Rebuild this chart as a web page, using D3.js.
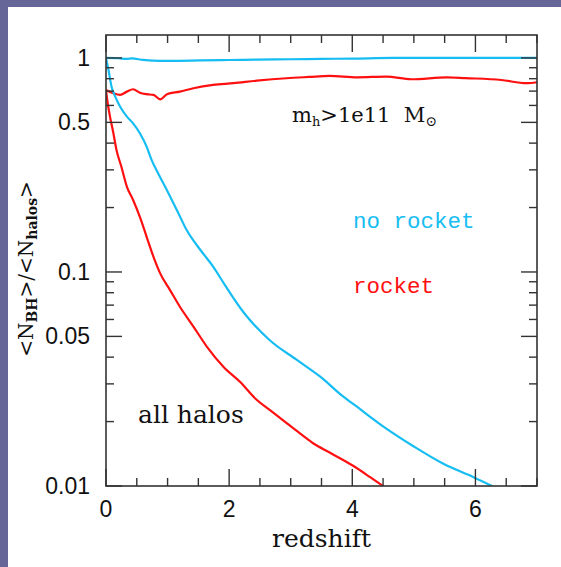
<!DOCTYPE html>
<html>
<head>
<meta charset="utf-8">
<script src="https://cdn.jsdelivr.net/npm/d3@7"></script>
<style>
  body { margin: 0; background: #fff; }
  svg { display: block; }
</style>
</head>
<body>
<script>
const width = 561;
const height = 567;
const margin = {left: 106, right: 24, top: 35, bottom: 81};

// redshift / ratio pairs
const zAllNoRocket = [0, 0.04, 0.09, 0.15, 0.23, 0.34, 0.44, 0.55, 0.66, 0.74, 0.85, 0.99, 1.15, 1.31, 1.53, 1.74, 1.93, 2.23, 2.66, 3.1, 3.48, 3.85, 4.02, 4.5, 5.0, 5.48, 5.97, 6.27];
const vAllNoRocket = [1, 0.88, 0.734, 0.66, 0.592, 0.532, 0.495, 0.445, 0.385, 0.334, 0.288, 0.241, 0.195, 0.157, 0.127, 0.106, 0.087, 0.065, 0.048, 0.0388, 0.0324, 0.0262, 0.0241, 0.019, 0.0153, 0.0127, 0.011, 0.01];

const zAllRocket = [0, 0.02, 0.065, 0.12, 0.17, 0.25, 0.34, 0.44, 0.55, 0.66, 0.77, 0.88, 1.04, 1.2, 1.42, 1.64, 1.91, 2.18, 2.42, 2.7, 2.95, 3.15, 3.37, 3.64, 4.02, 4.29, 4.5];
const vAllRocket = [0.709, 0.636, 0.532, 0.445, 0.372, 0.31, 0.25, 0.217, 0.181, 0.146, 0.118, 0.0985, 0.0823, 0.0688, 0.0556, 0.0447, 0.036, 0.0306, 0.0257, 0.0222, 0.0195, 0.0176, 0.0158, 0.0143, 0.0124, 0.011, 0.01];

const zMassNoRocket = [0, 0.2, 0.34, 0.42, 0.6, 0.88, 1.2, 1.53, 2.0, 2.45, 3.0, 3.5, 4.0, 4.67, 5.5, 6.3, 7];
const vMassNoRocket = [1, 0.997, 0.99, 0.995, 0.979, 0.968, 0.97, 0.975, 0.978, 0.983, 0.986, 0.99, 0.993, 1.0, 1.0, 1.0, 1.0];

const zMassRocket = [0, 0.12, 0.23, 0.34, 0.44, 0.55, 0.66, 0.77, 0.88, 0.99, 1.2, 1.42, 1.74, 2.07, 2.45, 2.93, 3.3, 3.63, 4.08, 4.55, 4.96, 5.54, 5.84, 6.42, 6.83, 7];
const vMassRocket = [0.709, 0.684, 0.672, 0.696, 0.714, 0.688, 0.677, 0.672, 0.641, 0.677, 0.696, 0.722, 0.748, 0.762, 0.783, 0.804, 0.815, 0.824, 0.812, 0.818, 0.795, 0.812, 0.805, 0.789, 0.762, 0.77];

const xTickLabels = [0, 2, 4, 6];
const yTickLabels = [1, 0.5, 0.1, 0.05, 0.01];

const blue = '#16bdf2';
const red = '#ff1010';

let svg = d3.select('body')
            .append('svg')
            .attr('width', width)
            .attr('height', height);

// purple page edge
svg.append('rect').attr('x', 0).attr('y', 0).attr('width', 8).attr('height', height).attr('fill', '#666699');
svg.append('rect').attr('x', 0).attr('y', 0).attr('width', width).attr('height', 7).attr('fill', '#666699');

let xScale = d3.scaleLinear()
               .domain([0, 7])
               .range([margin.left, width - margin.right]);

let yScale = d3.scaleLog()
               .domain([0.01, 1.28])
               .range([height - margin.bottom, margin.top]);

const x0 = xScale.range()[0], x1 = xScale.range()[1];
const y0 = yScale.range()[0], y1 = yScale.range()[1];

svg.append('clipPath').attr('id', 'clip')
   .append('rect')
   .attr('x', x0).attr('y', y1)
   .attr('width', x1 - x0).attr('height', y0 - y1);

// curves
const series = [
  {z: zMassNoRocket, v: vMassNoRocket, color: blue},
  {z: zMassRocket, v: vMassRocket, color: red},
  {z: zAllNoRocket, v: vAllNoRocket, color: blue},
  {z: zAllRocket, v: vAllRocket, color: red}
];

let line = d3.line()
             .curve(d3.curveMonotoneX)
             .x(d => xScale(d[0]))
             .y(d => yScale(d[1]));

series.forEach(s => {
  svg.append('path')
     .datum(s.z.map((z, i) => [z, s.v[i]]))
     .attr('clip-path', 'url(#clip)')
     .attr('fill', 'none')
     .attr('stroke', s.color)
     .attr('stroke-width', 2.2)
     .attr('stroke-linejoin', 'round')
     .attr('d', line);
});

// ticks, drawn inward on all four sides
const frameColor = '#333';
const xMinor = d3.range(0, 7.01, 0.5);
let ticks = svg.append('g').attr('stroke', frameColor).attr('stroke-width', 1.4);

xMinor.forEach(z => {
  const len = (z % 2 === 0) ? 17 : 8;
  ticks.append('line').attr('x1', xScale(z)).attr('x2', xScale(z))
       .attr('y1', y0).attr('y2', y0 - len);
  ticks.append('line').attr('x1', xScale(z)).attr('x2', xScale(z))
       .attr('y1', y1).attr('y2', y1 + len);
});

const yMinor = [];
[0.01, 0.1].forEach(dec => {
  for (let k = 1; k <= 9; k++) yMinor.push(dec * k);
});
yMinor.push(1);
yMinor.forEach(v => {
  const major = yTickLabels.some(t => Math.abs(t - v) < 1e-9);
  const len = major ? 16 : 8;
  ticks.append('line').attr('x1', x0).attr('x2', x0 + len)
       .attr('y1', yScale(v)).attr('y2', yScale(v));
  ticks.append('line').attr('x1', x1).attr('x2', x1 - len)
       .attr('y1', yScale(v)).attr('y2', yScale(v));
});

// frame
svg.append('rect')
   .attr('x', x0).attr('y', y1)
   .attr('width', x1 - x0).attr('height', y0 - y1)
   .attr('fill', 'none')
   .attr('stroke', frameColor)
   .attr('stroke-width', 1.6);

// tick labels
svg.append('g').selectAll('text')
   .data(xTickLabels)
   .enter()
   .append('text')
   .attr('x', d => xScale(d))
   .attr('y', 517)
   .attr('text-anchor', 'middle')
   .attr('font-family', 'Liberation Sans, Arial, sans-serif')
   .attr('font-size', 23)
   .attr('fill', '#111')
   .text(d => d);

svg.append('g').selectAll('text')
   .data(yTickLabels)
   .enter()
   .append('text')
   .attr('x', 90)
   .attr('y', d => yScale(d) + 8)
   .attr('text-anchor', 'end')
   .attr('font-family', 'Liberation Sans, Arial, sans-serif')
   .attr('font-size', 23)
   .attr('fill', '#111')
   .text(d => d);

// axis titles
svg.append('text')
   .attr('x', (x0 + x1) / 2)
   .attr('y', 547)
   .attr('text-anchor', 'middle')
   .attr('font-family', 'DejaVu Serif, serif')
   .attr('font-size', 25)
   .attr('fill', '#111')
   .text('redshift');

let yTitle = svg.append('text')
   .attr('transform', 'translate(32.5, 269) rotate(-90)')
   .attr('text-anchor', 'middle')
   .attr('font-family', 'DejaVu Serif, serif')
   .attr('font-size', 20)
   .attr('fill', '#111');
yTitle.append('tspan').text('<N');
yTitle.append('tspan').attr('dy', 4).attr('font-size', 14).attr('font-weight', 'bold').text('BH');
yTitle.append('tspan').attr('dy', -4).text('>/<N');
yTitle.append('tspan').attr('dy', 4).attr('font-size', 14).attr('font-weight', 'bold').text('halos');
yTitle.append('tspan').attr('dy', -4).text('>');

// annotations
let massNote = svg.append('text')
   .attr('x', 292)
   .attr('y', 122)
   .attr('font-family', 'DejaVu Serif, serif')
   .attr('font-size', 21)
   .attr('fill', '#111');
massNote.append('tspan').text('m');
massNote.append('tspan').attr('dy', 4).attr('font-size', 13).text('h');
massNote.append('tspan').attr('dy', -4).text('>1e11\u00a0\u00a0M');
massNote.append('tspan').attr('dy', 4).attr('font-size', 14).text('\u2299');

svg.append('text')
   .attr('x', 138)
   .attr('y', 423)
   .attr('font-family', 'DejaVu Serif, serif')
   .attr('font-size', 25)
   .attr('fill', '#111')
   .text('all halos');

svg.append('text')
   .attr('x', 353)
   .attr('y', 228)
   .attr('font-family', 'Liberation Mono, monospace')
   .attr('font-size', 22.5)
   .attr('fill', blue)
   .text('no rocket');

svg.append('text')
   .attr('x', 353)
   .attr('y', 293)
   .attr('font-family', 'Liberation Mono, monospace')
   .attr('font-size', 22.5)
   .attr('fill', red)
   .text('rocket');
</script>
</body>
</html>
